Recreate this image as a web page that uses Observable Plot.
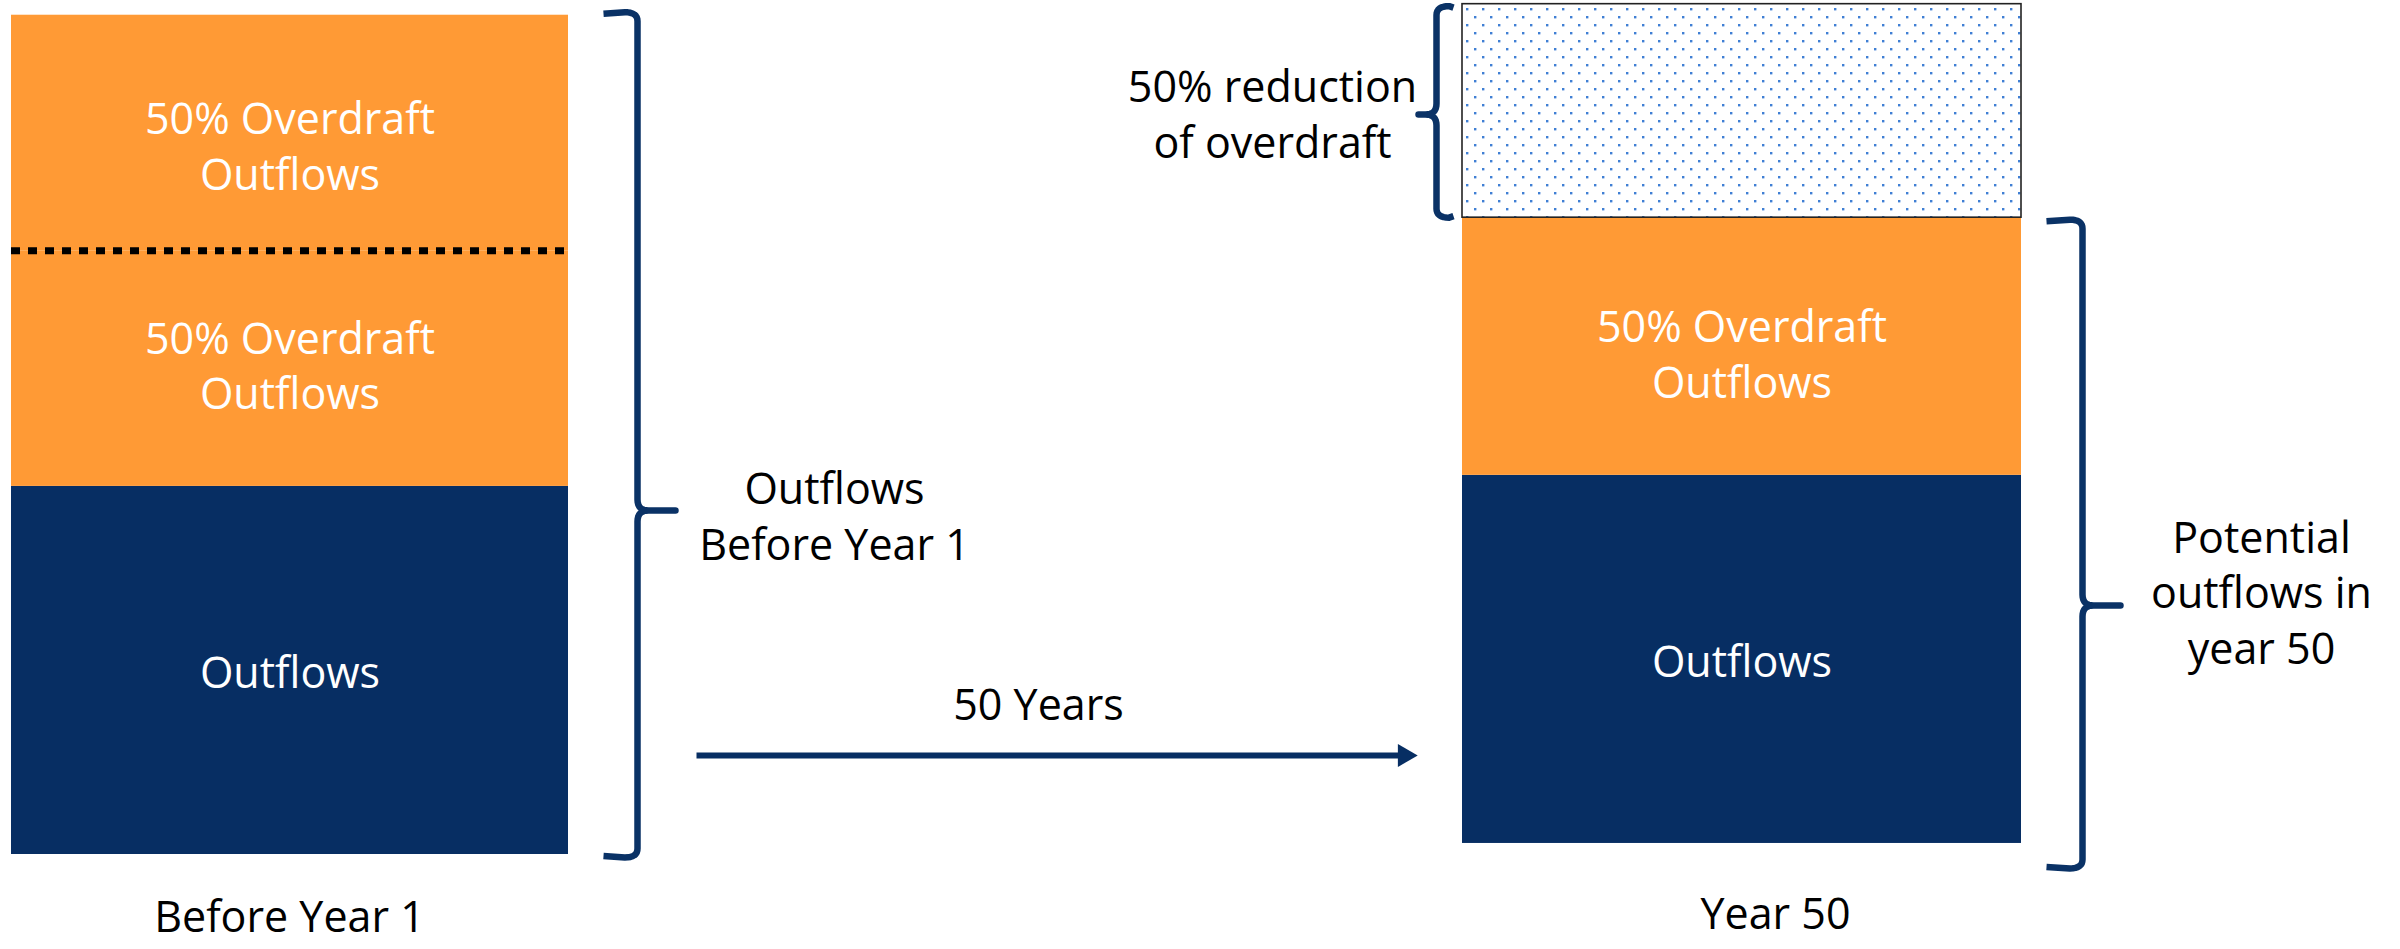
<!DOCTYPE html>
<html><head><meta charset="utf-8">
<script src="https://cdn.jsdelivr.net/npm/d3@7"></script>
<script src="https://cdn.jsdelivr.net/npm/@observablehq/plot@0.6"></script>
<style>html,body{margin:0;padding:0;background:#fff;overflow:hidden;}</style>
</head><body><div id="chart"></div>
<script>
// ---------------- DATA ----------------
const categories = ["Before Year 1", "Year 50"];
const segmentBar = ["Before Year 1", "Before Year 1", "Before Year 1", "Year 50", "Year 50", "Year 50"];
const segmentKind = ["Outflows", "Overdraft", "Overdraft", "Outflows", "Overdraft", "Reduction"];
const segmentLabel = ["Outflows", "50% Overdraft\nOutflows", "50% Overdraft\nOutflows", "Outflows", "50% Overdraft\nOutflows", ""];
const segmentValue = [100, 64, 64, 100, 70, 58];
const braceLabels = ["Outflows\nBefore Year 1", "Potential\noutflows in\nyear 50", "50% reduction\nof overdraft"];
const arrowLabel = "50 Years";

// ---------------- LAYOUT / STYLE ----------------
const W = 2400, H = 949;
const barX = {"Before Year 1": [11, 568], "Year 50": [1462, 2021]};
const barBase = {"Before Year 1": 0, "Year 50": 3};
const labelDy = [0, -5, 11, 0, 6, 0];
const catLabelX = {"Before Year 1": 289, "Year 50": 1775};
const catLabelY = {"Before Year 1": 918, "Year 50": 915};
const ORANGE = "#FF9A35", NAVY = "#072E63", BRACE = "#0A3266", DOT = "#3F7FD4";
const FONT = 43;

const yScale = Plot.scale({y: {type: "linear", domain: [0, 232], range: [854, 0]}});
const inv = (py) => yScale.invert(py);
const yPx = (v) => yScale.apply(v);

// stack the segments
const segments = [];
const cum = {};
segmentValue.forEach((v, i) => {
  const bar = segmentBar[i];
  const start = cum[bar] ?? barBase[bar];
  cum[bar] = start + v;
  segments.push({bar, kind: segmentKind[i], label: segmentLabel[i], y1: start, y2: start + v,
    x1: barX[bar][0], x2: barX[bar][1], xc: (barX[bar][0] + barX[bar][1]) / 2,
    ym: inv(yPx(start + v / 2) + labelDy[i])});
});
const byKind = (k) => segments.filter(s => s.kind === k);
const topOf = (bar) => cum[bar];

// dotted divider between the two overdraft halves of the first bar
const firstOver = segments.filter(s => s.bar === categories[0] && s.kind === "Overdraft")[0];

// brace geometry, px -> data
function quad(p0, c, p1, n = 8) {
  const pts = [];
  for (let i = 0; i <= n; i++) {
    const t = i / n, a = (1 - t) * (1 - t), b = 2 * (1 - t) * t, d = t * t;
    pts.push([a * p0[0] + b * c[0] + d * p1[0], a * p0[1] + b * c[1] + d * p1[1]]);
  }
  return pts;
}
function brace(xv, top, bot, tip, dir, hook, tipLen, id) {
  const r = 9, rt = 11;
  let pts = [];
  pts.push([xv - dir * hook, top + 1.5]);
  pts = pts.concat(quad([xv - dir * r * 1.4, top], [xv, top], [xv, top + r]));
  pts = pts.concat(quad([xv, tip - rt], [xv, tip], [xv + dir * rt, tip]));
  pts.push([xv + dir * tipLen, tip]);
  pts.push([xv + dir * rt, tip]);
  pts = pts.concat(quad([xv + dir * rt, tip], [xv, tip], [xv, tip + rt]));
  pts = pts.concat(quad([xv, bot - r], [xv, bot], [xv - dir * r * 1.4, bot]));
  pts.push([xv - dir * hook, bot - 1.5]);
  return pts.map(([x, y]) => ({x, y: inv(y), id}));
}
const braces = [
  ...brace(637, yPx(topOf(categories[0])) - 3, yPx(0) + 3, 510, 1, 34, 38, "a"),
  ...brace(2082, yPx(byKind("Reduction")[0].y1) + 2, yPx(barBase[categories[1]]) + 25, 605, 1, 36, 38, "b"),
  ...brace(1436, yPx(topOf(categories[1])) + 2, yPx(byKind("Reduction")[0].y1), 114, -1, 17, 18, "c")
];
const braceText = [
  {text: braceLabels[0], x: 834, y: inv(514)},
  {text: braceLabels[1], x: 2261, y: inv(590)},
  {text: braceLabels[2], x: 1272, y: inv(112)}
];
const arrowY = inv(755);

const chart = Plot.plot({
  width: W, height: H,
  margin: 0,
  style: {fontFamily: "'Open Sans', sans-serif", background: "#fff", overflow: "visible"},
  x: {type: "linear", domain: [0, W], range: [0, W], axis: null},
  y: {type: "linear", domain: [0, 232], range: [854, 0], axis: null},
  marks: [
    Plot.rect(byKind("Outflows"), {x1: "x1", x2: "x2", y1: "y1", y2: "y2", fill: NAVY}),
    Plot.rect(byKind("Overdraft"), {x1: "x1", x2: "x2", y1: "y1", y2: "y2", fill: ORANGE}),
    Plot.rect(byKind("Reduction"), {x1: "x1", x2: "x2", y1: "y1", y2: "y2", fill: "url(#dots)", stroke: "#222", strokeWidth: 1.6}),
    Plot.ruleY([firstOver], {y: "y2", x1: "x1", x2: "x2", stroke: "#000", strokeWidth: 7, strokeDasharray: "9,8"}),
    Plot.text(segments.filter(s => s.label), {x: "xc", y: "ym", text: "label", fill: "#fff", fontSize: FONT, lineHeight: 1.3, textAnchor: "middle", lineAnchor: "middle"}),
    Plot.line(braces, {x: "x", y: "y", z: "id", stroke: BRACE, strokeWidth: 6.5, strokeLinejoin: "round", strokeLinecap: "butt", curve: "linear"}),
    Plot.text(braceText, {x: "x", y: "y", text: "text", fill: "#000", fontSize: FONT, lineHeight: 1.3, textAnchor: "middle", lineAnchor: "middle"}),
    Plot.link([{x1: 696, x2: 1400, y: arrowY}], {x1: "x1", x2: "x2", y1: "y", y2: "y", stroke: NAVY, strokeWidth: 6}),
    Plot.dot([{x: 1404, y: arrowY}], {x: "x", y: "y", symbol: "triangle", r: 8.5, fill: NAVY, stroke: "none", rotate: 90}),
    Plot.text([{t: arrowLabel, x: 1038, y: inv(706)}], {x: "x", y: "y", text: "t", fill: "#000", fontSize: FONT, textAnchor: "middle", lineAnchor: "middle"}),
    Plot.text(categories.map(c => ({t: c, x: catLabelX[c], y: inv(catLabelY[c])})), {x: "x", y: "y", text: "t", fill: "#000", fontSize: FONT, textAnchor: "middle", lineAnchor: "middle"})
  ]
});

const svgNS = "http://www.w3.org/2000/svg";
const defs = document.createElementNS(svgNS, "defs");
defs.innerHTML = `<pattern id="dots" patternUnits="userSpaceOnUse" x="1463" y="5" width="16" height="16">
  <rect x="3" y="3" width="2.4" height="2.4" fill="${DOT}"/>
  <rect x="11" y="11" width="2.4" height="2.4" fill="${DOT}"/></pattern>`;
chart.prepend(defs);
document.getElementById("chart").appendChild(chart);
</script>
</body></html>
